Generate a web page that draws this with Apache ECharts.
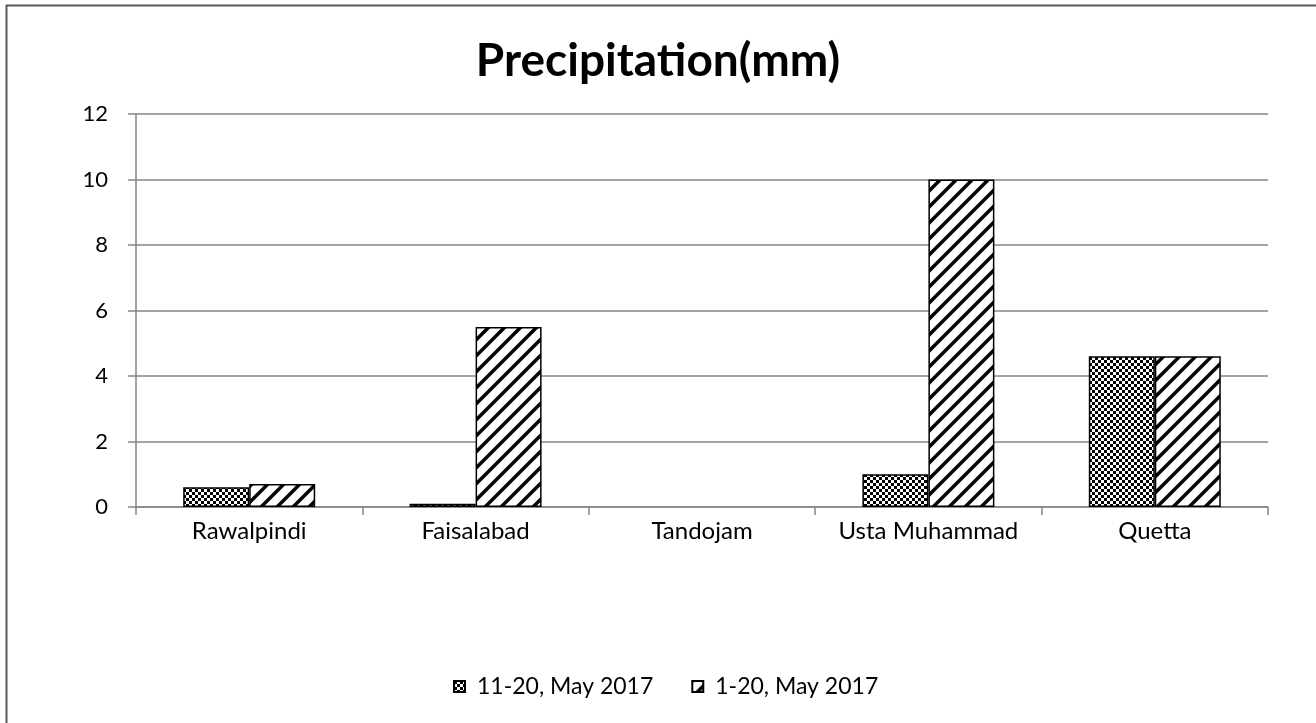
<!DOCTYPE html>
<html>
<head>
<meta charset="utf-8">
<script src="https://cdn.jsdelivr.net/npm/echarts@6/dist/echarts.min.js"></script>
<style>
  html, body { margin: 0; padding: 0; background: #fff; }
  #chart { width: 1316px; height: 723px; }
</style>
</head>
<body>
<div id="chart"></div>
<script>
const stations = ['Rawalpindi', 'Faisalabad', 'Tandojam', 'Usta Muhammad', 'Quetta']
const may11to20 = [0.6, 0.1, 0, 1.0, 4.6]
const may1to20 = [0.7, 5.5, 0, 10, 4.6]
const seriesNames = ['11-20, May 2017', '1-20, May 2017']

// 棋盘格图案
function checkerPattern() {
  const c = document.createElement('canvas')
  c.width = 6
  c.height = 6
  const ctx = c.getContext('2d')
  ctx.fillStyle = '#fff'
  ctx.fillRect(0, 0, 6, 6)
  ctx.fillStyle = '#000'
  ctx.fillRect(0, 0, 3, 3)
  ctx.fillRect(3, 3, 3, 3)
  return c
}

// 斜线图案
function stripePattern() {
  const s = 16
  const c = document.createElement('canvas')
  c.width = s
  c.height = s
  const ctx = c.getContext('2d')
  ctx.fillStyle = '#fff'
  ctx.fillRect(0, 0, s, s)
  ctx.strokeStyle = '#000'
  ctx.lineWidth = 3.5
  ctx.beginPath()
  ctx.moveTo(-2, s + 2); ctx.lineTo(s + 2, -2)
  ctx.moveTo(-2, 2); ctx.lineTo(2, -2)
  ctx.moveTo(s - 2, s + 2); ctx.lineTo(s + 2, s - 2)
  ctx.stroke()
  return c
}

// 零值不画边框
function toBarData(values) {
  return values.map(v => v === 0 ? { value: v, itemStyle: { borderWidth: 0 } } : v)
}

const font = 'Lato, "Open Sans", sans-serif'
const chart = echarts.init(document.getElementById('chart'))
chart.setOption({
  animation: false,
  backgroundColor: '#fff',
  title: {
    text: 'Precipitation(mm)',
    left: 'center',
    top: 33,
    textStyle: { fontFamily: font, fontWeight: 'bold', fontSize: 46, color: '#000' }
  },
  legend: {
    bottom: 20,
    left: 448,
    itemWidth: 11,
    itemHeight: 11,
    itemGap: 38,
    textStyle: { fontFamily: font, fontSize: 23, color: '#000', padding: [0, 0, 0, 7] },
    data: seriesNames.map(n => ({ name: n, icon: 'rect' }))
  },
  grid: { left: 136, right: 48, top: 114, bottom: 216 },
  xAxis: {
    type: 'category',
    data: stations,
    axisLine: { lineStyle: { color: '#868686', width: 1.5 } },
    axisTick: { show: true, interval: 0, length: 8, lineStyle: { color: '#868686', width: 1.5 } },
    axisLabel: { interval: 0, fontFamily: font, fontSize: 24, color: '#000', margin: 12 }
  },
  yAxis: {
    type: 'value',
    min: 0,
    max: 12,
    interval: 2,
    axisLine: { show: true, lineStyle: { color: '#868686', width: 1.5 } },
    axisTick: { show: true, length: 8, lineStyle: { color: '#868686', width: 1.5 } },
    splitLine: { lineStyle: { color: '#868686', width: 1.5 } },
    axisLabel: { fontFamily: font, fontSize: 22, color: '#000', margin: 28 }
  },
  series: [
    {
      name: seriesNames[0],
      type: 'bar',
      data: toBarData(may11to20),
      barWidth: 66,
      barGap: '0%',
      itemStyle: {
        color: { image: checkerPattern(), repeat: 'repeat' },
        borderColor: '#000',
        borderWidth: 1.5
      }
    },
    {
      name: seriesNames[1],
      type: 'bar',
      data: toBarData(may1to20),
      barWidth: 66,
      barGap: '0%',
      itemStyle: {
        color: { image: stripePattern(), repeat: 'repeat' },
        borderColor: '#000',
        borderWidth: 1.5
      }
    }
  ],
  graphic: [{
    type: 'rect',
    shape: { x: 6.5, y: 5.5, width: 1400, height: 800 },
    style: { fill: 'none', stroke: '#595959', lineWidth: 2 },
    silent: true
  }]
})
</script>
</body>
</html>
